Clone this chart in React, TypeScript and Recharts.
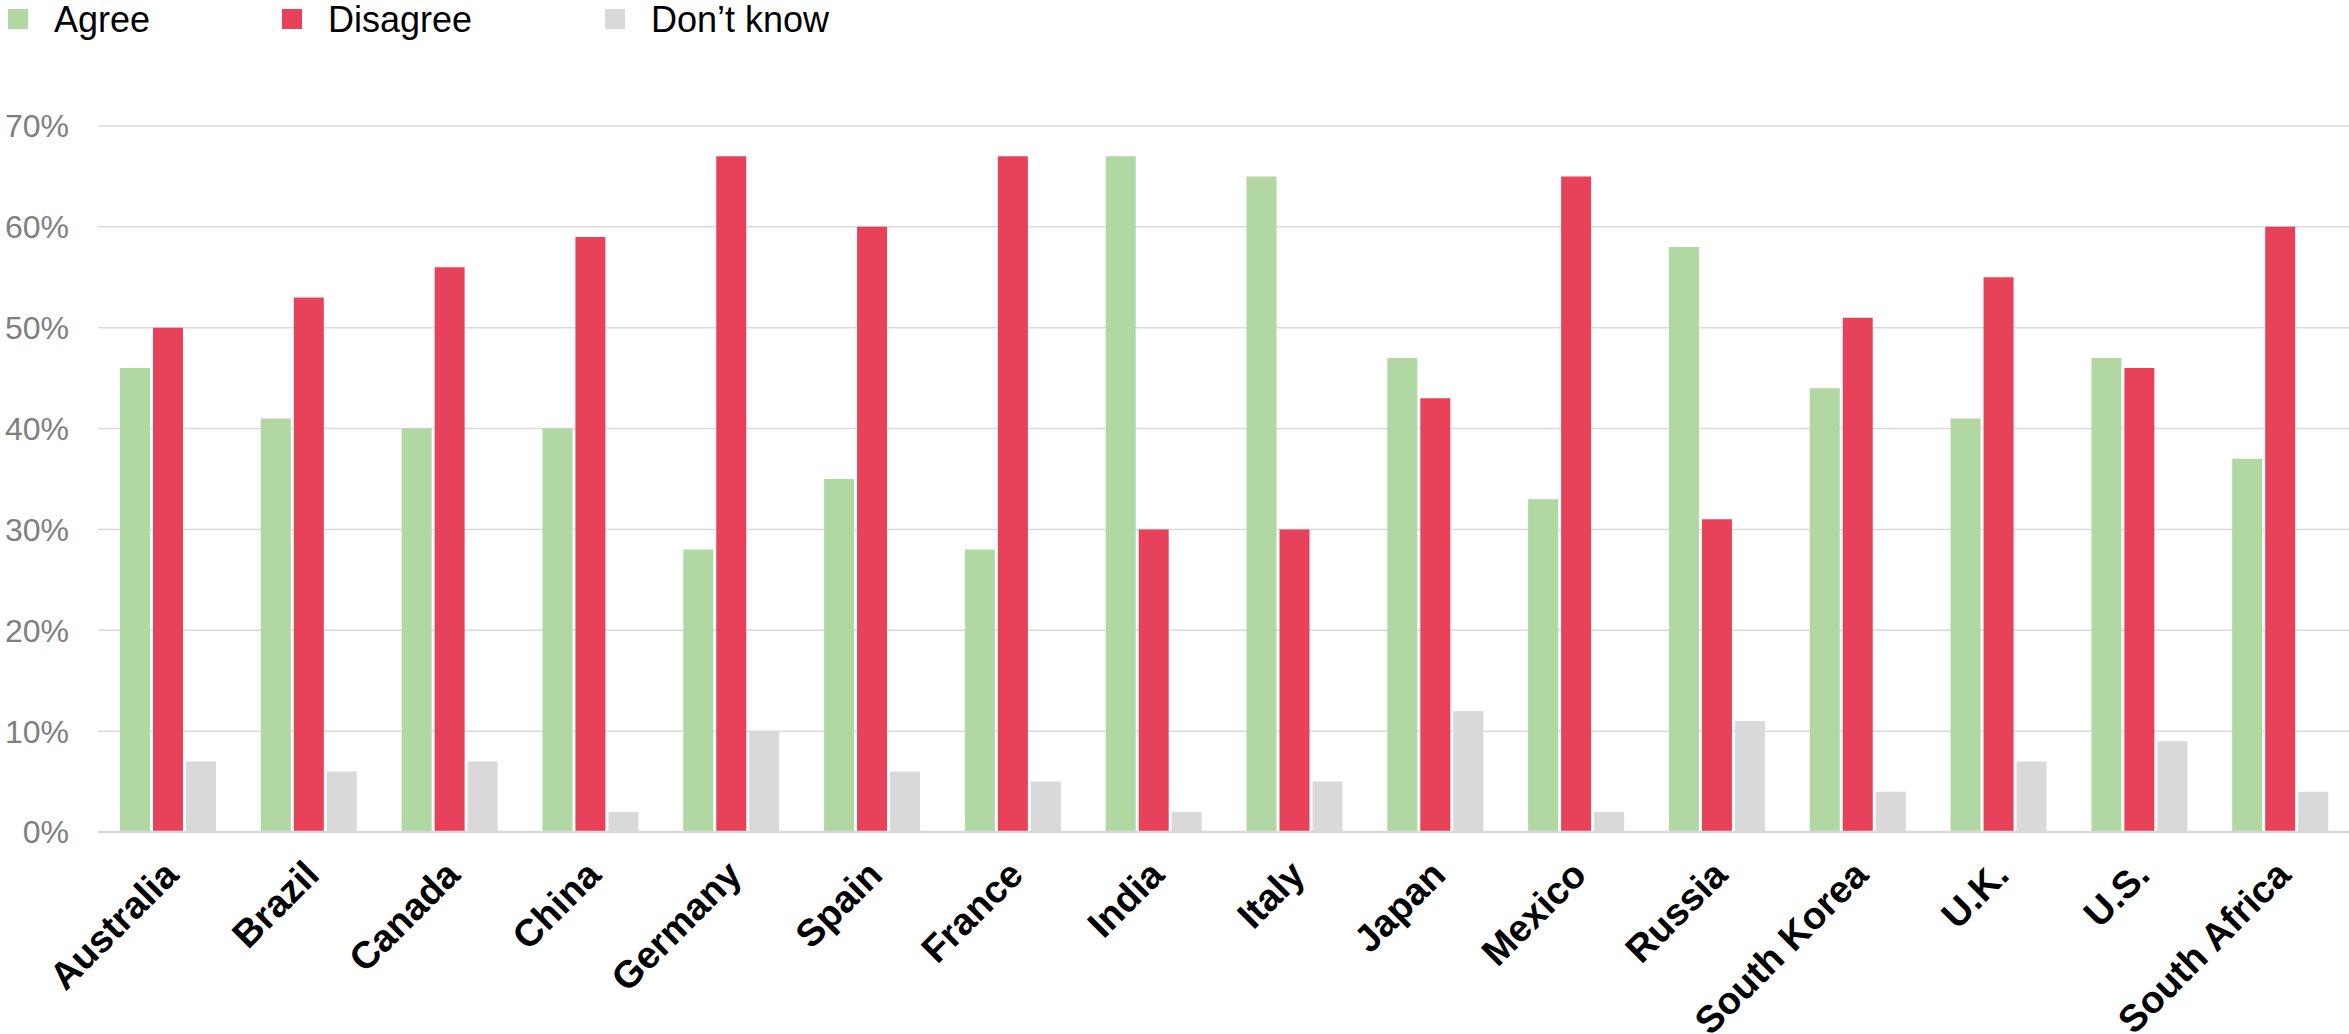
import React from "react";
import { BarChart, Bar, XAxis, YAxis, CartesianGrid, Legend } from "recharts";

const countries = ["Australia", "Brazil", "Canada", "China", "Germany", "Spain", "France", "India", "Italy", "Japan", "Mexico", "Russia", "South Korea", "U.K.", "U.S.", "South Africa"];
const agree = [46, 41, 40, 40, 28, 35, 28, 67, 65, 47, 33, 58, 44, 41, 47, 37];
const disagree = [50, 53, 56, 59, 67, 60, 67, 30, 30, 43, 65, 31, 51, 55, 46, 60];
const dontKnow = [7, 6, 7, 2, 10, 6, 5, 2, 5, 12, 2, 11, 4, 7, 9, 4];
const yTicks = [0, 10, 20, 30, 40, 50, 60, 70];

const seriesNames = ["Agree", "Disagree", "Don\u2019t know"];
const seriesKeys = ["agree", "disagree", "dontKnow"];
const seriesColors = ["#b1d8a3", "#e8425a", "#d9d9d9"];

const data = countries.map((c, i) => ({
  country: c,
  agree: agree[i],
  disagree: disagree[i],
  dontKnow: dontKnow[i],
}));

const FONT = "'Liberation Sans', Arial, sans-serif";

const legendX = [8, 282, 605];

const renderLegend = () => (
  <svg width={900} height={50} style={{ position: "absolute", left: 0, top: 0 }}>
    {seriesNames.map((n, i) => (
      <g key={n}>
        <rect x={legendX[i]} y={9} width={20} height={20} fill={seriesColors[i]} />
        <text x={legendX[i] + 46} y={32} fontSize={36} fontFamily={FONT} fill="#000">
          {n}
        </text>
      </g>
    ))}
  </svg>
);

const XTick = (props: any) => {
  const { x, y, payload } = props;
  return (
    <g transform={`translate(${x + 12},${y + 45})`}>
      <text
        transform="rotate(-45)"
        textAnchor="end"
        fontSize={38}
        fontWeight="bold"
        fontFamily={FONT}
        fill="#000"
      >
        {payload.value}
      </text>
    </g>
  );
};

export default function App() {
  return (
    <div style={{ position: "absolute", left: 0, top: 0, width: 2349, height: 1034, overflow: "hidden", background: "#fff" }}>
      <BarChart
        width={2352}
        height={1034}
        data={data}
        margin={{ top: 126, right: 1, bottom: 0, left: 0 }}
        barGap={3}
        barSize={30}
      >
        <CartesianGrid vertical={false} stroke="#d9d9d9" strokeWidth={1.5} />
        <XAxis
          dataKey="country"
          interval={0}
          height={202}
          tickLine={false}
          tickSize={0}
          tickMargin={0}
          axisLine={{ stroke: "#d9d9d9", strokeWidth: 2.5 }}
          tick={<XTick />}
        />
        <YAxis
          width={98}
          domain={[0, 70]}
          ticks={yTicks}
          interval={0}
          axisLine={false}
          tickLine={false}
          tickSize={0}
          tickMargin={29}
          tickFormatter={(v: number) => `${v}%`}
          tick={{ fontSize: 32, fill: "#7f7f7f", fontFamily: FONT }}
        />
        <Legend verticalAlign="top" content={renderLegend} wrapperStyle={{ position: "absolute", left: 0, top: 0 }} />
        {seriesKeys.map((k, i) => (
          <Bar key={k} dataKey={k} name={seriesNames[i]} fill={seriesColors[i]} isAnimationActive={false} />
        ))}
      </BarChart>
    </div>
  );
}
